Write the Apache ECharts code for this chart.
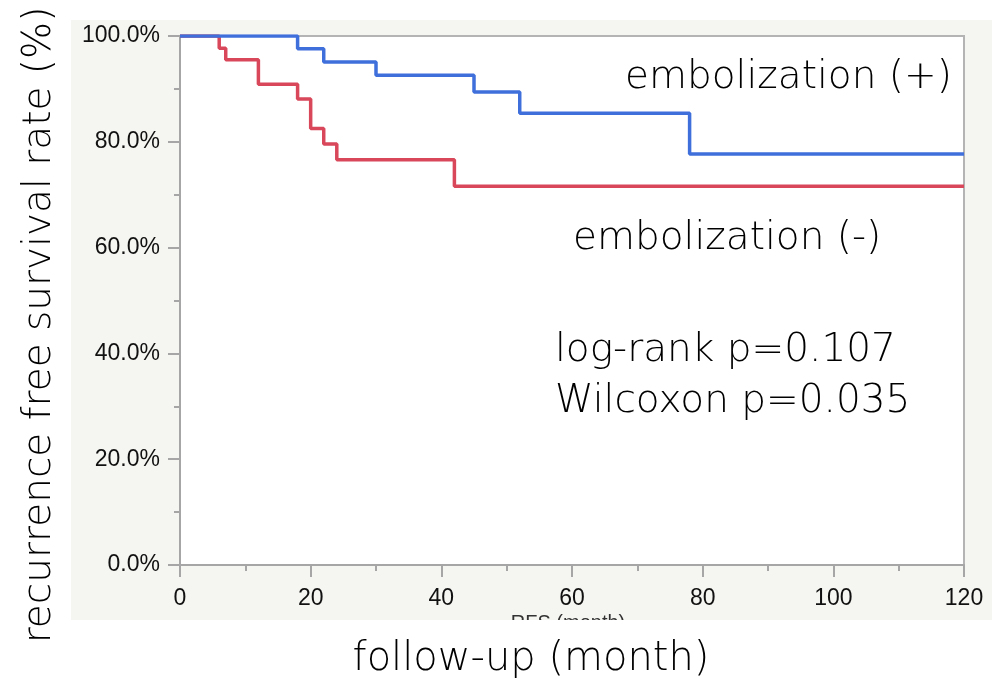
<!DOCTYPE html>
<html><head><meta charset="utf-8">
<script src="https://cdn.jsdelivr.net/npm/echarts@6/dist/echarts.min.js"></script>
<style>
html,body{margin:0;padding:0;background:#fff;}
#bg{position:absolute;left:71px;top:20px;width:921px;height:600px;background:#f5f5f1;}
#chart{position:absolute;left:0;top:0;width:992px;height:684px;}
</style></head>
<body>
<div id="bg"></div>
<div id="chart"></div>
<script>
// months, survival (%)
const embolPlusTime = [0, 18, 22, 30, 45, 52, 78, 120];
const embolPlusSurv = [100, 97.6, 95.1, 92.6, 89.4, 85.4, 77.7, 77.7];
const embolMinusTime = [0, 6, 7, 12, 18, 20, 22, 24, 42, 120];
const embolMinusSurv = [100, 97.7, 95.5, 90.9, 88.1, 82.5, 79.6, 76.6, 71.6, 71.6];
const xTicks = [0, 20, 40, 60, 80, 100, 120];
const yTicks = [0, 20, 40, 60, 80, 100];
const labelPlus = 'embolization (+)';
const labelMinus = 'embolization (-)';
const statLines = ['log-rank p=0.107', 'Wilcoxon p=0.035'];
const xTitle = 'follow-up (month)';
const yTitle = 'recurrence free survival rate (%)';
const hiddenTitle = 'RFS (month)';

const plusData = embolPlusTime.map((t, i) => [t, embolPlusSurv[i]]);
const minusData = embolMinusTime.map((t, i) => [t, embolMinusSurv[i]]);

const chart = echarts.init(document.getElementById('chart'));
const bigFont = '"DejaVu Sans", "Noto Sans", sans-serif';
const tickFont = '"Liberation Sans", Arial, sans-serif';
const axisGray = '#a6a6a6';

chart.setOption({
  backgroundColor: 'transparent',
  animation: false,
  grid: {left: 180, right: 28, top: 36, bottom: 119, show: true, backgroundColor: '#ffffff', borderColor: '#b4b4b4', borderWidth: 2},
  xAxis: {
    type: 'value', min: 0, max: 120, interval: 20,
    axisLine: {lineStyle: {color: axisGray, width: 2}},
    axisTick: {length: 12, lineStyle: {color: axisGray, width: 2}},
    minorTick: {show: true, splitNumber: 2, length: 6, lineStyle: {color: axisGray, width: 2}},
    splitLine: {show: false},
    axisLabel: {margin: 22, fontSize: 23, color: '#111', fontFamily: tickFont,
      formatter: v => xTicks.includes(v) ? String(v) : ''}
  },
  yAxis: {
    type: 'value', min: 0, max: 100, interval: 20,
    axisLine: {show: true, lineStyle: {color: axisGray, width: 2}},
    axisTick: {show: true, length: 12, lineStyle: {color: axisGray, width: 2}},
    minorTick: {show: true, splitNumber: 2, length: 6, lineStyle: {color: axisGray, width: 2}},
    splitLine: {show: false},
    axisLabel: {margin: 20, fontSize: 23, color: '#111', fontFamily: tickFont,
      formatter: v => yTicks.includes(v) ? v.toFixed(1) + '%' : ''}
  },
  series: [
    {type: 'line', step: 'end', data: minusData, showSymbol: false, symbol: 'none',
      lineStyle: {color: '#d8475a', width: 3.5}, z: 3},
    {type: 'line', step: 'end', data: plusData, showSymbol: false, symbol: 'none',
      lineStyle: {color: '#3f6fdb', width: 3.5}, z: 4}
  ],
  graphic: [
    {type: 'text', z: 10, style: {text: hiddenTitle, x: 568, y: 613, textAlign: 'center', textVerticalAlign: 'top', font: '20px ' + tickFont, fill: '#333'}},
    {type: 'rect', z: 20, shape: {x: 0, y: 620, width: 992, height: 64}, style: {fill: '#ffffff'}},
    {type: 'text', z: 30, style: {text: labelPlus, x: 625, y: 78, textAlign: 'left', textVerticalAlign: 'middle', font: '200 39px ' + bigFont, fill: '#000'}},
    {type: 'text', z: 30, style: {text: labelMinus, x: 573, y: 239, textAlign: 'left', textVerticalAlign: 'middle', font: '200 39px ' + bigFont, fill: '#000'}},
    {type: 'text', z: 30, style: {text: statLines[0], x: 555, y: 351, textAlign: 'left', textVerticalAlign: 'middle', font: '200 39px ' + bigFont, fill: '#000'}},
    {type: 'text', z: 30, style: {text: statLines[1], x: 555, y: 402, textAlign: 'left', textVerticalAlign: 'middle', font: '200 39px ' + bigFont, fill: '#000'}},
    {type: 'text', z: 30, style: {text: xTitle, x: 531, y: 660, textAlign: 'center', textVerticalAlign: 'middle', font: '200 40px ' + bigFont, fill: '#000'}},
    {type: 'text', z: 30, x: 40, y: 325, rotation: Math.PI / 2, style: {text: yTitle, x: 0, y: 0, textAlign: 'center', textVerticalAlign: 'middle', font: '200 39px ' + bigFont, fill: '#000'}}
  ]
});
</script>
</body></html>
